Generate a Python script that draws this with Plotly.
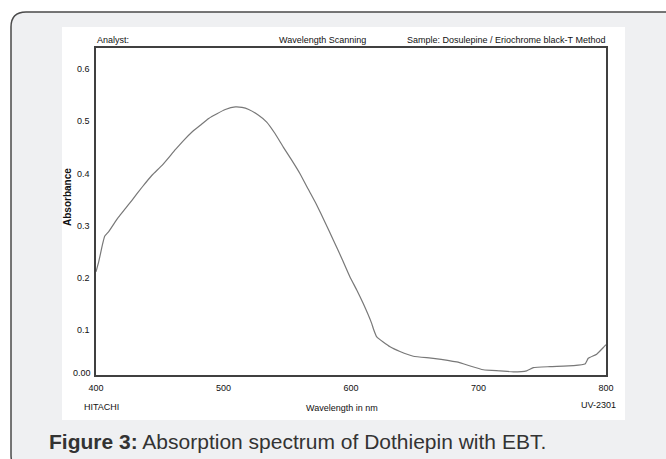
import plotly.graph_objects as go

# Data
wavelength_nm = [400.0, 402.1, 404.7, 406.8, 410.0, 414.9, 417.8, 423.0, 428.2, 436.1,
                 443.9, 451.8, 462.2, 468.8, 475.3, 481.8, 488.4, 494.9, 501.4, 509.3,
                 514.5, 519.8, 527.5, 533.9, 540.4, 546.9, 553.5, 560.0, 566.5, 573.1,
                 579.6, 586.1, 592.7, 599.2, 604.5, 609.6, 616.2, 617.5, 620.2, 630.6,
                 638.4, 648.9, 664.5, 682.9, 703.8, 716.9, 727.3, 737.8, 743.0, 756.1,
                 774.4, 783.5, 786.1, 792.7, 798.4, 800.0]
absorbance = [0.198, 0.217, 0.246, 0.266, 0.275, 0.293, 0.303, 0.319, 0.335, 0.360,
              0.383, 0.402, 0.432, 0.450, 0.466, 0.479, 0.492, 0.501, 0.509, 0.514,
              0.513, 0.509, 0.498, 0.485, 0.463, 0.437, 0.412, 0.386, 0.356, 0.326,
              0.293, 0.259, 0.224, 0.188, 0.163, 0.137, 0.099, 0.089, 0.073, 0.054,
              0.045, 0.036, 0.032, 0.025, 0.010, 0.008, 0.006, 0.008, 0.014, 0.016,
              0.018, 0.021, 0.032, 0.040, 0.054, 0.058]

x_ticks = [400, 500, 600, 700, 800]
y_ticks = [0.1, 0.2, 0.3, 0.4, 0.5, 0.6]
y_tick_text = ["0.1", "0.2", "0.3", "0.4", "0.5", "0.6"]
y_zero_label = "0.00"

W, H = 666, 459
L, R, T, B = 96, 606, 48, 375


def px(x):
    return (x - L) / (R - L)


def py(y):
    return (B - y) / (B - T)


NARROW = "Liberation Sans Narrow, Arial Narrow, Liberation Sans, Arial, sans-serif"
SANS = "Liberation Sans, Arial, Helvetica, sans-serif"

fig = go.Figure()
fig.add_trace(go.Scatter(x=wavelength_nm, y=absorbance, mode="lines",
                         line=dict(color="#787878", width=1.2, shape="spline", smoothing=0.4),
                         hoverinfo="x+y", showlegend=False))

# rounded card path (pixel -> paper)
r = 15
x0, y0, x1, y1 = 11, 12, 700, 470
card = (f"M {px(x0)},{py(y0 + r)} Q {px(x0)},{py(y0)} {px(x0 + r)},{py(y0)} "
        f"L {px(x1)},{py(y0)} L {px(x1)},{py(y1)} L {px(x0 + r)},{py(y1)} "
        f"Q {px(x0)},{py(y1)} {px(x0)},{py(y1 - r)} Z")

shapes = [
    dict(type="path", path=card, xref="paper", yref="paper", layer="below",
         fillcolor="#eff0f2", line=dict(color="#4a4a4a", width=1.5)),
    dict(type="rect", xref="paper", yref="paper", layer="below",
         x0=px(62), x1=px(625), y0=py(420), y1=py(27),
         fillcolor="#ffffff", line=dict(width=0)),
]

ann = []


def txt(text, x, y, xanchor="left", size=9, font=NARROW, color="#111111", **kw):
    ann.append(dict(text=text, x=px(x), y=py(y), xref="paper", yref="paper",
                    xanchor=xanchor, yanchor="middle", showarrow=False,
                    font=dict(family=font, size=size, color=color), **kw))


txt("Analyst:", 95, 40)
txt("Wavelength Scanning", 322, 40, xanchor="center")
txt("Sample: Dosulepine / Eriochrome black-T Method", 607, 40, xanchor="right")
txt("HITACHI", 82, 407)
txt("Wavelength in nm", 342, 408, xanchor="center")
txt("UV-2301", 618, 405, xanchor="right")
txt("<b>Absorbance</b>", 67, 197, xanchor="center", size=10, textangle=-90)
txt("<b>Figure 3:</b> Absorption spectrum of Dothiepin with EBT.", 47, 441,
    size=21, font=SANS, color="#333")
# zero label of the y axis sits just above the frame bottom in the original
ann.append(dict(text=y_zero_label, x=0, y=0, xref="paper", yref="y",
                xanchor="right", yanchor="middle", xshift=-3, yshift=2, showarrow=False,
                font=dict(family=NARROW, size=9, color="#111111")))

fig.update_layout(
    width=W, height=H,
    margin=dict(l=L, r=W - R, t=T, b=H - B, pad=0),
    paper_bgcolor="#ffffff", plot_bgcolor="rgba(0,0,0,0)",
    shapes=shapes, annotations=ann,
    xaxis=dict(range=[400, 800], tickvals=x_ticks, showgrid=False, zeroline=False,
               showline=True, mirror=True, linecolor="#404040", linewidth=1.5,
               ticks="", tickfont=dict(family=NARROW, size=9, color="#111111"),
               ticklabelstandoff=3),
    yaxis=dict(range=[0, 0.627], tickvals=y_ticks, ticktext=y_tick_text,
               showgrid=False, zeroline=False,
               showline=True, mirror=True, linecolor="#404040", linewidth=1.5,
               ticks="", tickfont=dict(family=NARROW, size=9, color="#111111"),
               ticklabelstandoff=3, ticklabelshift=7),
)

fig.write_html("out.html", config={"displayModeBar": False},
               post_script="document.body.style.margin='0';document.body.style.overflow='hidden';")
